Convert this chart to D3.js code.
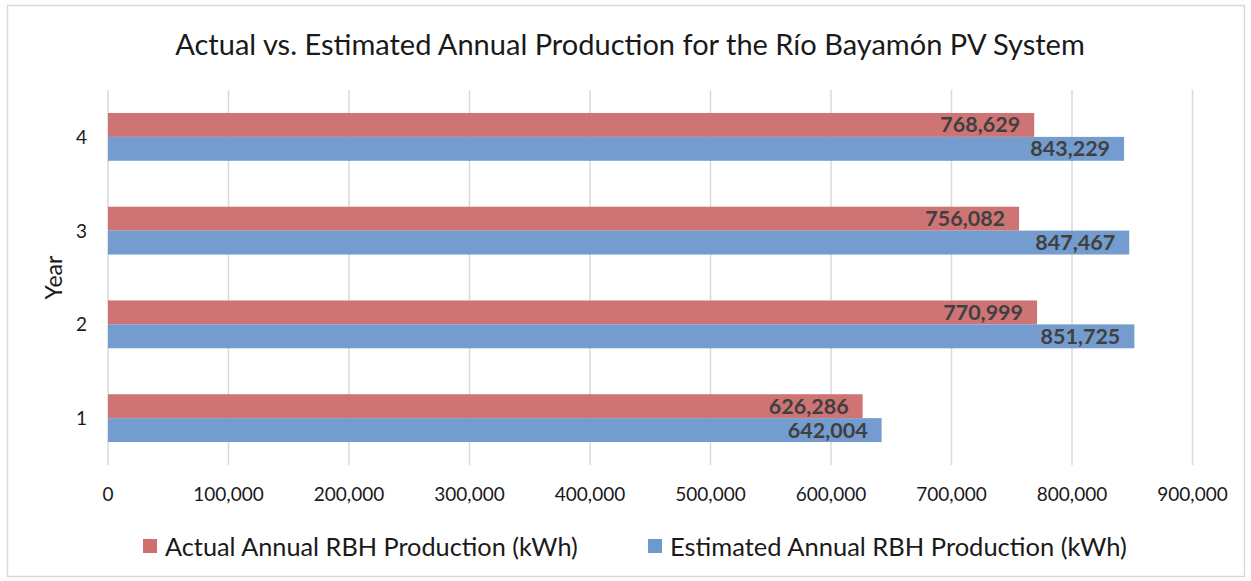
<!DOCTYPE html>
<html>
<head>
<meta charset="utf-8">
<title>Rio Bayamon PV production</title>
<script src="https://cdn.jsdelivr.net/npm/d3@7"></script>
<style>
  body { margin: 0; background: #fff; }
  text { font-family: Lato, "Open Sans", sans-serif; }
</style>
</head>
<body>
<div id="chart"></div>
<script>
// data
var years = ["1", "2", "3", "4"];
var actual = [626286, 770999, 756082, 768629];
var estimated = [642004, 851725, 847467, 843229];
var seriesNames = ["Actual Annual RBH Production (kWh)", "Estimated Annual RBH Production (kWh)"];
var xTicks = [0, 100000, 200000, 300000, 400000, 500000, 600000, 700000, 800000, 900000];

var W = 1251, H = 581;
var red = "#cd6f6f", blue = "#6f99cc";
var margin = {left: 108, right: 59, top: 90, bottom: 116};

var svg = d3.select("#chart").append("svg")
    .attr("width", W).attr("height", H);

// chart border
svg.append("rect")
    .attr("x", 7.5).attr("y", 5.5)
    .attr("width", W - 14).attr("height", H - 10)
    .attr("fill", "#fff").attr("stroke", "#d9d9d9").attr("stroke-width", 1.5);

var x = d3.scaleLinear().domain([0, 900000])
    .range([margin.left, margin.left + 120.5 * 9]);

// year 4 on top
var y = d3.scaleBand().domain(years.slice().reverse())
    .range([margin.top, H - margin.bottom])
    .paddingInner(0.49).paddingOuter(0.245);

// gridlines
svg.append("g").selectAll("line")
    .data(xTicks).enter().append("line")
    .attr("x1", function(d){ return x(d); })
    .attr("x2", function(d){ return x(d); })
    .attr("y1", margin.top).attr("y2", H - margin.bottom)
    .attr("stroke", "#d9d9d9").attr("stroke-width", 1.5);

var fmt = d3.format(",");

// x tick labels
svg.append("g").selectAll("text")
    .data(xTicks).enter().append("text")
    .attr("x", function(d){ return x(d); })
    .attr("y", 501)
    .attr("text-anchor", "middle")
    .attr("font-size", 19).attr("fill", "#1a1a1a")
    .text(function(d){ return fmt(d); });

// y category labels
svg.append("g").selectAll("text")
    .data(years).enter().append("text")
    .attr("x", 87)
    .attr("y", function(d){ return y(d) + y.bandwidth() / 2 + 7; })
    .attr("text-anchor", "end")
    .attr("font-size", 19).attr("fill", "#1a1a1a")
    .text(function(d){ return d; });

// y axis title
svg.append("text")
    .attr("transform", "translate(62," + ((margin.top + H - margin.bottom) / 2) + ") rotate(-90)")
    .attr("text-anchor", "middle")
    .attr("font-size", 23).attr("fill", "#1a1a1a")
    .text("Year");

var series = [
  {name: seriesNames[0], values: actual, color: red, offset: 0},
  {name: seriesNames[1], values: estimated, color: blue, offset: 1}
];

var barH = y.bandwidth() / 2;

series.forEach(function(s){
  var g = svg.append("g");
  g.selectAll("rect")
      .data(s.values).enter().append("rect")
      .attr("x", x(0))
      .attr("y", function(d, i){ return y(years[i]) + s.offset * barH; })
      .attr("width", function(d){ return x(d) - x(0); })
      .attr("height", barH)
      .attr("fill", s.color).attr("fill-opacity", 0.97);
  g.selectAll("text")
      .data(s.values).enter().append("text")
      .attr("x", function(d){ return x(d) - 14; })
      .attr("y", function(d, i){ return y(years[i]) + s.offset * barH + barH / 2 + 7.5; })
      .attr("text-anchor", "end")
      .attr("font-size", 21.5).attr("font-weight", "bold").attr("fill", "#404040")
      .text(function(d){ return fmt(d); });
});

// shrink or grow a text to a target width (Calibri is wider than Lato)
function fitWidth(t, target, size) {
  var w = t.node().getComputedTextLength();
  if (w > 0) t.attr("font-size", size * target / w);
}

// title
var title = svg.append("text")
    .attr("x", 630).attr("y", 55)
    .attr("text-anchor", "middle")
    .attr("font-size", 26).attr("fill", "#1a1a1a")
    .text("Actual vs. Estimated Annual Production for the Río Bayamón PV System");
fitWidth(title, 910, 26);

// legend
var legX = [143, 648];
var legW = [413, 457];
series.forEach(function(s, i){
  svg.append("rect")
      .attr("x", legX[i]).attr("y", 539)
      .attr("width", 14).attr("height", 14)
      .attr("fill", s.color);
  var t = svg.append("text")
      .attr("x", legX[i] + 22).attr("y", 556)
      .attr("font-size", 24).attr("fill", "#1a1a1a")
      .text(s.name);
  fitWidth(t, legW[i], 24);
});
</script>
</body>
</html>
